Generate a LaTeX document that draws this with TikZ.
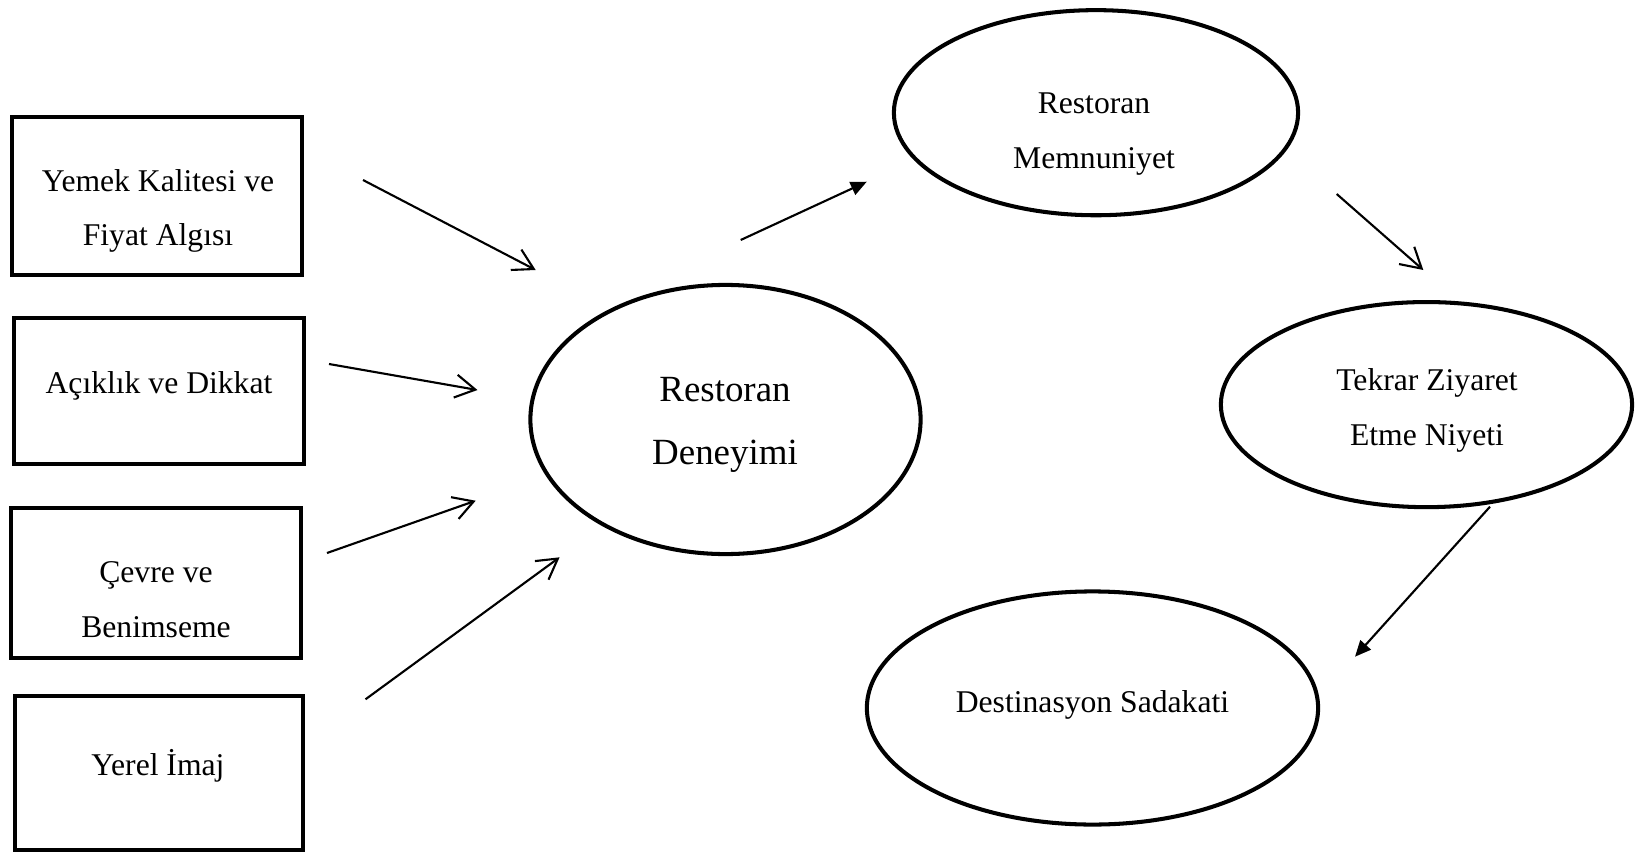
\documentclass[tikz,border=0pt]{standalone}
\usepackage{fontspec}
\setmainfont{Liberation Serif}
\usetikzlibrary{arrows.meta,shapes.geometric}
\begin{document}
\begin{tikzpicture}[x=0.01cm,y=-0.01cm,
  box/.style={draw=black, line width=1.15pt, rectangle, inner sep=0pt},
  oval/.style={draw=black, line width=1.15pt, ellipse, inner sep=0pt},
  lbl/.style={font=\fontsize{9}{15.6}\selectfont, align=center, inner sep=0pt},
  biglbl/.style={font=\fontsize{10.5}{18}\selectfont, align=center, inner sep=0pt},
  openarrow/.style={-{Straight Barb[length=2mm,width=2.3mm]}, line width=0.6pt},
  fullarrow/.style={-{Triangle[length=1.6mm,width=1.4mm]}, line width=0.6pt}
]
\useasboundingbox[fill=white] (0,0) rectangle (1635,854);

% boxes
\node[box, minimum width=2.90cm, minimum height=1.58cm] (b1) at (157,196) {};
\node[box, minimum width=2.89cm, minimum height=1.46cm] (b2) at (159,391) {};
\node[box, minimum width=2.89cm, minimum height=1.50cm] (b3) at (156,583) {};
\node[box, minimum width=2.87cm, minimum height=1.53cm] (b4) at (159,773) {};

\node[lbl] (t1) at (158,211) {Yemek Kalitesi ve\\Fiyat Algısı};
\node[lbl] (t2) at (159,386) {Açıklık ve Dikkat};
\node[lbl] (t3) at (156,600) {Çevre ve\\Benimseme};
\node[lbl, anchor=base] (t4) at (158,775) {Yerel İmaj};

% ellipses
\node[oval, minimum width=3.90cm, minimum height=2.69cm] (e1) at (725.5,419.5) {};
\node[oval, minimum width=4.04cm, minimum height=2.05cm] (e2) at (1096,112.7) {};
\node[oval, minimum width=4.11cm, minimum height=2.05cm] (e3) at (1426.5,404.6) {};
\node[oval, minimum width=4.51cm, minimum height=2.33cm] (e4) at (1092.5,708) {};

\node[biglbl] (s1) at (725,425) {Restoran\\Deneyimi};
\node[lbl] (s2) at (1094,134) {Restoran\\Memnuniyet};
\node[lbl] (s3) at (1427,410) {Tekrar Ziyaret\\Etme Niyeti};
\node[lbl, anchor=base] (s4) at (1092.5,712) {Destinasyon Sadakati};

% arrow end points
\coordinate (a1s) at (363,180);   \coordinate (a1e) at (535.7,270);
\coordinate (a2s) at (329,364);   \coordinate (a2e) at (477.5,390);
\coordinate (a3s) at (327,553);   \coordinate (a3e) at (475.7,500.7);
\coordinate (a4s) at (365.5,699.3); \coordinate (a4e) at (559.6,557.3);
\coordinate (a5s) at (740.7,240); \coordinate (a5e) at (866.8,181.7);
\coordinate (a6s) at (1336.7,194); \coordinate (a6e) at (1423.3,270);
\coordinate (a7s) at (1490,506.7); \coordinate (a7e) at (1355,656.7);

\draw[openarrow] (a1s) -- (a1e);
\draw[openarrow] (a2s) -- (a2e);
\draw[openarrow] (a3s) -- (a3e);
\draw[openarrow] (a4s) -- (a4e);
\draw[fullarrow] (a5s) -- (a5e);
\draw[openarrow] (a6s) -- (a6e);
\draw[fullarrow] (a7s) -- (a7e);
\end{tikzpicture}
\end{document}
